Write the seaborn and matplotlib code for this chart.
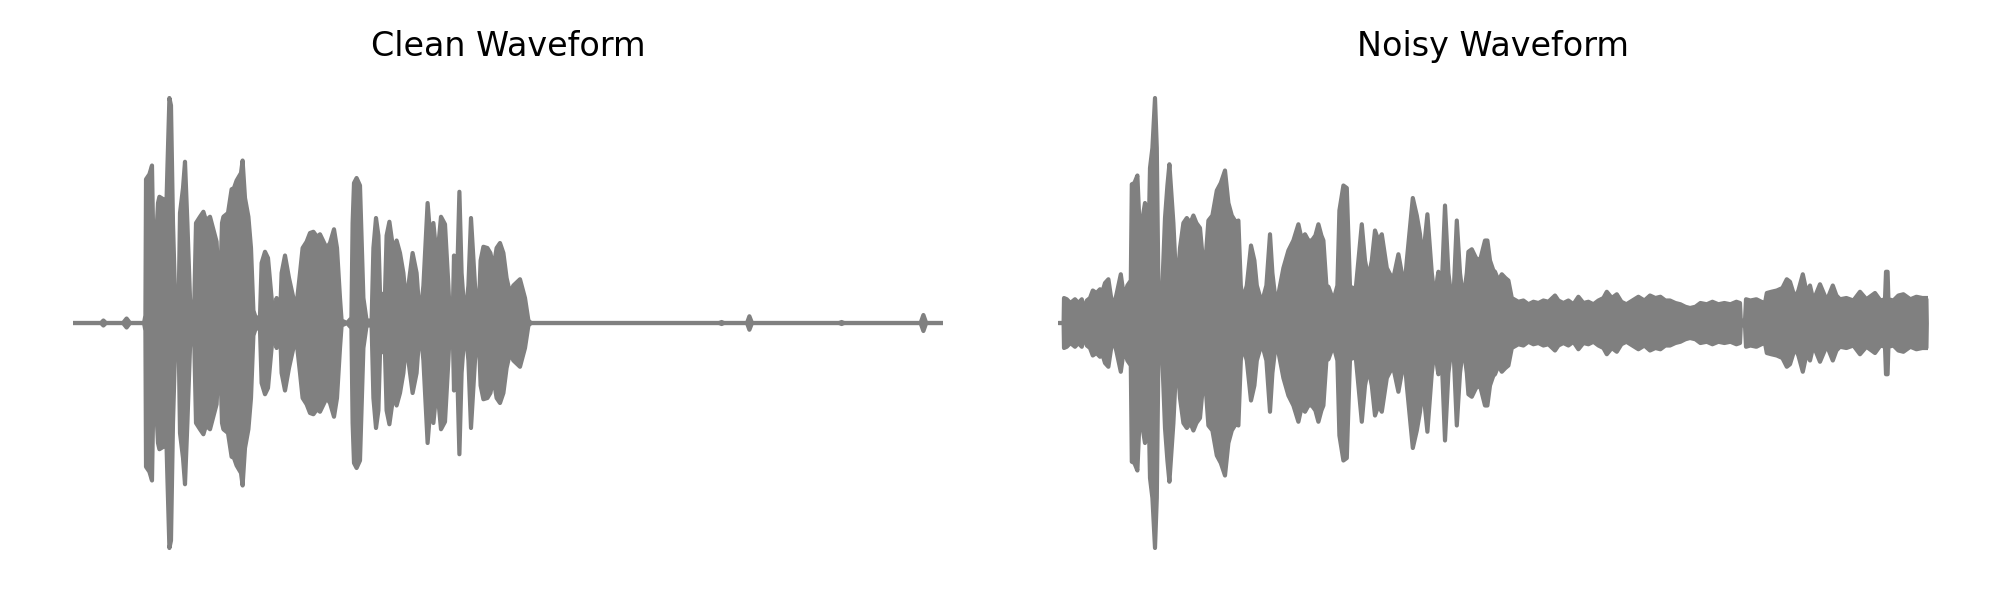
import numpy as np
import matplotlib
matplotlib.use("Agg")
import matplotlib.pyplot as plt
import seaborn as sns

sns.set_style("white")

# envelope of the clean waveform (time in s, peak amplitude)
clean_t = [0.000, 0.140, 0.152, 0.165, 0.250, 0.268, 0.285, 0.355, 0.362, 0.365,
           0.382, 0.395, 0.402, 0.410, 0.425, 0.432, 0.452, 0.462, 0.472, 0.482,
           0.490, 0.500, 0.510, 0.518, 0.528, 0.535, 0.550, 0.560, 0.572, 0.585,
           0.593, 0.605, 0.615, 0.635, 0.652, 0.665, 0.685, 0.700, 0.718, 0.728,
           0.735, 0.745, 0.752, 0.775, 0.793, 0.805, 0.818, 0.840, 0.848, 0.860,
           0.877, 0.890, 0.902, 0.918, 0.935, 0.943, 0.960, 0.975, 0.993, 1.005,
           1.012, 1.018, 1.025, 1.035, 1.043, 1.060, 1.080, 1.102, 1.118, 1.135,
           1.148, 1.168, 1.185, 1.202, 1.220, 1.235, 1.250, 1.268, 1.285, 1.305,
           1.320, 1.335, 1.343, 1.370, 1.392, 1.398, 1.405, 1.418, 1.435, 1.452,
           1.468, 1.493, 1.502, 1.515, 1.527, 1.535, 1.548, 1.560, 1.568, 1.582,
           1.602, 1.618, 1.635, 1.652, 1.668, 1.677, 1.698, 1.718, 1.735, 1.752,
           1.773, 1.788, 1.802, 1.820, 1.840, 1.860, 1.877, 1.885, 1.898, 1.905,
           1.912, 1.918, 1.932, 1.943, 1.960, 1.977, 1.990, 2.010, 2.027, 2.038,
           2.052, 2.072, 2.087, 2.102, 2.118, 2.135, 2.152, 2.168, 2.185, 2.202,
           2.235, 2.260, 2.277, 2.290, 3.230, 3.243, 3.255, 3.370, 3.382, 3.395,
           3.830, 3.843, 3.856, 4.238, 4.252, 4.266, 4.350]
clean_amp = [0.000, 0.000, 0.010, 0.000, 0.000, 0.018, 0.000, 0.000, 0.030, 0.575,
             0.595, 0.630, 0.300, 0.250, 0.480, 0.505, 0.495, 0.320, 0.620, 0.900,
             0.870, 0.400, 0.120, 0.010, 0.060, 0.440, 0.540, 0.645, 0.400, 0.100,
             0.010, 0.030, 0.400, 0.425, 0.445, 0.410, 0.425, 0.380, 0.325, 0.150,
             0.120, 0.400, 0.425, 0.440, 0.535, 0.540, 0.570, 0.600, 0.650, 0.500,
             0.425, 0.300, 0.050, 0.010, 0.030, 0.240, 0.285, 0.260, 0.100, 0.010,
             0.020, 0.100, 0.020, 0.020, 0.200, 0.270, 0.180, 0.100, 0.075, 0.200,
             0.300, 0.325, 0.360, 0.365, 0.345, 0.355, 0.330, 0.300, 0.320, 0.375,
             0.300, 0.100, 0.010, 0.000, 0.020, 0.400, 0.560, 0.580, 0.550, 0.100,
             0.010, 0.010, 0.300, 0.420, 0.350, 0.120, 0.115, 0.120, 0.350, 0.405,
             0.290, 0.330, 0.280, 0.200, 0.060, 0.150, 0.280, 0.200, 0.010, 0.150,
             0.480, 0.330, 0.400, 0.250, 0.425, 0.395, 0.150, 0.010, 0.010, 0.270,
             0.020, 0.100, 0.525, 0.200, 0.010, 0.150, 0.420, 0.150, 0.010, 0.250,
             0.305, 0.300, 0.280, 0.220, 0.300, 0.320, 0.280, 0.180, 0.120, 0.150,
             0.175, 0.100, 0.010, 0.000, 0.000, 0.004, 0.000, 0.000, 0.027, 0.000,
             0.000, 0.004, 0.000, 0.000, 0.032, 0.000, 0.000]

# envelope of the noisy waveform
noisy_t = [0.000, 0.026, 0.028, 0.042, 0.060, 0.083, 0.100, 0.117, 0.125, 0.142,
           0.158, 0.172, 0.190, 0.208, 0.220, 0.233, 0.250, 0.262, 0.275, 0.292,
           0.312, 0.325, 0.333, 0.345, 0.362, 0.367, 0.380, 0.395, 0.405, 0.412,
           0.425, 0.433, 0.442, 0.450, 0.458, 0.470, 0.483, 0.492, 0.500, 0.517,
           0.533, 0.545, 0.555, 0.575, 0.592, 0.608, 0.625, 0.642, 0.660, 0.675,
           0.690, 0.708, 0.725, 0.733, 0.750, 0.770, 0.792, 0.812, 0.833, 0.850,
           0.867, 0.890, 0.900, 0.912, 0.922, 0.942, 0.963, 0.980, 0.992, 1.010,
           1.025, 1.040, 1.058, 1.070, 1.083, 1.100, 1.125, 1.150, 1.175, 1.200,
           1.215, 1.233, 1.250, 1.267, 1.285, 1.300, 1.315, 1.325, 1.340, 1.350,
           1.375, 1.395, 1.405, 1.425, 1.442, 1.458, 1.475, 1.483, 1.500, 1.517,
           1.533, 1.550, 1.567, 1.583, 1.600, 1.617, 1.642, 1.658, 1.675, 1.700,
           1.717, 1.725, 1.742, 1.772, 1.792, 1.808, 1.822, 1.845, 1.867, 1.883,
           1.895, 1.900, 1.917, 1.933, 1.950, 1.967, 1.978, 1.992, 2.008, 2.025,
           2.042, 2.050, 2.067, 2.088, 2.108, 2.133, 2.145, 2.158, 2.175, 2.183,
           2.200, 2.217, 2.235, 2.250, 2.267, 2.300, 2.325, 2.350, 2.375, 2.400,
           2.425, 2.450, 2.470, 2.483, 2.500, 2.525, 2.550, 2.575, 2.600, 2.625,
           2.650, 2.675, 2.700, 2.725, 2.742, 2.767, 2.792, 2.815, 2.840, 2.870,
           2.900, 2.930, 2.958, 2.985, 3.010, 3.035, 3.058, 3.085, 3.110, 3.135,
           3.158, 3.185, 3.210, 3.242, 3.270, 3.300, 3.330, 3.360, 3.390, 3.408,
           3.412, 3.433, 3.438, 3.460, 3.490, 3.515, 3.533, 3.542, 3.565, 3.592,
           3.620, 3.642, 3.658, 3.683, 3.700, 3.722, 3.742, 3.758, 3.775, 3.808,
           3.842, 3.872, 3.890, 3.908, 3.940, 3.975, 4.008, 4.040, 4.083, 4.110,
           4.133, 4.138, 4.146, 4.150, 4.175, 4.200, 4.225, 4.260, 4.290, 4.320,
           4.348, 4.350]
noisy_amp = [0.000, 0.000, 0.100, 0.095, 0.080, 0.095, 0.080, 0.095, 0.050, 0.090,
             0.100, 0.130, 0.120, 0.135, 0.125, 0.160, 0.175, 0.110, 0.060, 0.120,
             0.195, 0.120, 0.115, 0.150, 0.170, 0.555, 0.560, 0.590, 0.400, 0.355,
             0.440, 0.480, 0.435, 0.300, 0.620, 0.700, 0.900, 0.700, 0.150, 0.090,
             0.420, 0.550, 0.635, 0.400, 0.115, 0.300, 0.400, 0.420, 0.400, 0.430,
             0.400, 0.380, 0.230, 0.220, 0.410, 0.430, 0.530, 0.560, 0.610, 0.480,
             0.430, 0.400, 0.410, 0.150, 0.090, 0.150, 0.310, 0.250, 0.150, 0.100,
             0.105, 0.150, 0.355, 0.200, 0.110, 0.115, 0.220, 0.290, 0.330, 0.395,
             0.340, 0.355, 0.330, 0.330, 0.350, 0.395, 0.350, 0.330, 0.150, 0.145,
             0.090, 0.150, 0.450, 0.550, 0.540, 0.145, 0.140, 0.105, 0.250, 0.395,
             0.250, 0.180, 0.250, 0.370, 0.330, 0.355, 0.220, 0.195, 0.180, 0.275,
             0.200, 0.090, 0.250, 0.500, 0.430, 0.355, 0.250, 0.435, 0.200, 0.090,
             0.180, 0.205, 0.150, 0.470, 0.200, 0.090, 0.150, 0.410, 0.200, 0.090,
             0.200, 0.285, 0.295, 0.260, 0.250, 0.330, 0.330, 0.250, 0.210, 0.205,
             0.170, 0.195, 0.180, 0.170, 0.100, 0.085, 0.090, 0.075, 0.085, 0.080,
             0.090, 0.085, 0.100, 0.110, 0.090, 0.080, 0.090, 0.075, 0.105, 0.080,
             0.085, 0.075, 0.090, 0.100, 0.125, 0.100, 0.115, 0.085, 0.075, 0.090,
             0.105, 0.090, 0.110, 0.100, 0.105, 0.090, 0.090, 0.080, 0.075, 0.065,
             0.060, 0.065, 0.080, 0.075, 0.085, 0.075, 0.080, 0.075, 0.085, 0.080,
             0.010, 0.010, 0.095, 0.090, 0.095, 0.085, 0.080, 0.120, 0.125, 0.130,
             0.140, 0.175, 0.165, 0.100, 0.130, 0.195, 0.120, 0.150, 0.090, 0.155,
             0.090, 0.150, 0.110, 0.095, 0.100, 0.090, 0.125, 0.095, 0.120, 0.090,
             0.095, 0.205, 0.205, 0.095, 0.090, 0.110, 0.115, 0.095, 0.105, 0.100,
             0.100, 0.000]

titles = ["Clean Waveform", "Noisy Waveform"]


def plot_waveform(ax, t, amp, title):
    t = np.array(t)
    amp = np.array(amp)
    ax.fill_between(t, -amp, amp, color="gray", linewidth=0)
    sns.lineplot(x=t, y=amp, ax=ax, color="gray", linewidth=1.5,
                 estimator=None, sort=False)
    sns.lineplot(x=t, y=-amp, ax=ax, color="gray", linewidth=1.5,
                 estimator=None, sort=False)
    ax.set_xlim(0, 4.35)
    ax.set_ylim(-1, 1)
    ax.set_title(title, fontsize=12, color="black")
    ax.axis("off")


fig = plt.figure(figsize=(10, 3), dpi=200)
ax1 = fig.add_axes([0.0365, 0.045, 0.435, 0.8333])
ax2 = fig.add_axes([0.5292, 0.045, 0.435, 0.8333])

plot_waveform(ax1, clean_t, clean_amp, titles[0])
plot_waveform(ax2, noisy_t, noisy_amp, titles[1])

fig.savefig("out.png", dpi=200)
